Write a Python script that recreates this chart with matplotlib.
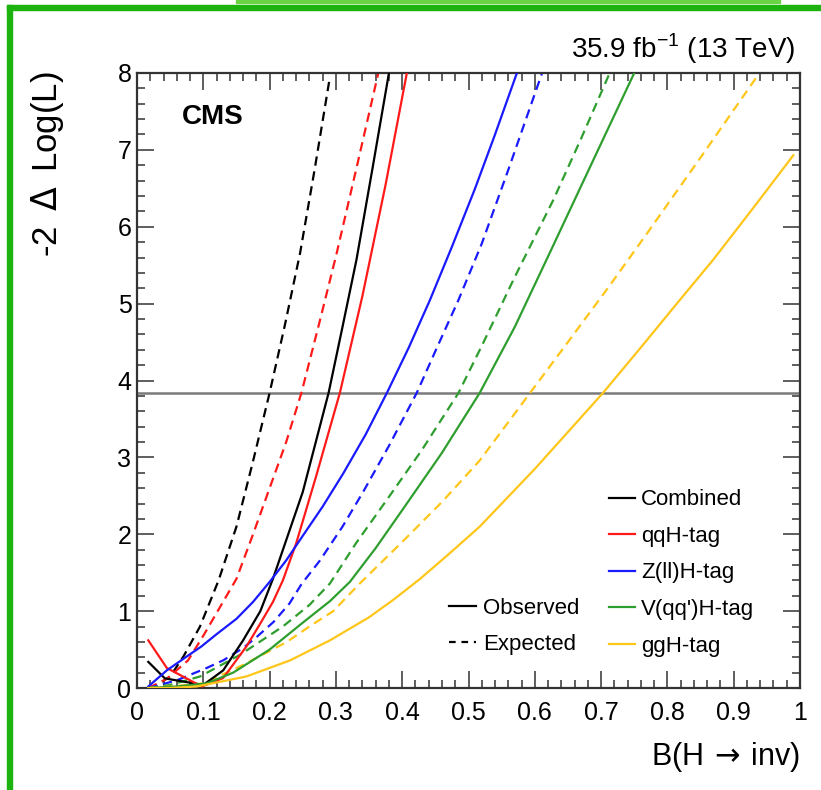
import matplotlib
matplotlib.use("Agg")
import matplotlib.pyplot as plt
from matplotlib.lines import Line2D
from matplotlib.patches import Rectangle
from matplotlib.ticker import MultipleLocator, FuncFormatter

plt.rcParams['font.family'] = ['Liberation Sans', 'DejaVu Sans']

# Likelihood scans, -2 dLogL vs B(H->inv)
comb_obs_x = [0.017, 0.042, 0.10, 0.13, 0.16, 0.186, 0.205, 0.25, 0.289, 0.31, 0.331, 0.355, 0.38]
comb_obs_y = [0.34, 0.125, 0.04, 0.23, 0.62, 1.0, 1.42, 2.55, 3.84, 4.7, 5.57, 6.75, 8.0]
comb_exp_x = [0.017, 0.03, 0.05, 0.07, 0.095, 0.123, 0.15, 0.175, 0.20, 0.223, 0.246, 0.268, 0.29]
comb_exp_y = [0.0, 0.04, 0.15, 0.41, 0.80, 1.40, 2.1, 2.95, 3.84, 4.72, 5.66, 6.75, 7.9]

qqh_obs_x = [0.017, 0.045, 0.0976, 0.13, 0.165, 0.186, 0.205, 0.22, 0.24, 0.27, 0.306, 0.34, 0.375, 0.407]
qqh_obs_y = [0.62, 0.26, 0.02, 0.13, 0.54, 0.84, 1.12, 1.40, 1.88, 2.75, 3.84, 5.1, 6.55, 8.0]
qqh_exp_x = [0.017, 0.045, 0.077, 0.10, 0.125, 0.15, 0.175, 0.20, 0.225, 0.248, 0.275, 0.301, 0.332, 0.364]
qqh_exp_y = [0.0, 0.12, 0.36, 0.68, 1.05, 1.42, 2.0, 2.6, 3.2, 3.84, 4.75, 5.65, 6.8, 8.0]

zllh_obs_x = [0.017, 0.045, 0.075, 0.097, 0.12, 0.15, 0.175, 0.20, 0.225, 0.25, 0.28, 0.311,
              0.345, 0.377, 0.41, 0.442, 0.475, 0.51, 0.54, 0.573]
zllh_obs_y = [0.02, 0.23, 0.41, 0.54, 0.70, 0.90, 1.12, 1.38, 1.66, 1.98, 2.36, 2.79,
              3.3, 3.84, 4.43, 5.05, 5.74, 6.5, 7.2, 8.0]
zllh_exp_x = [0.017, 0.06, 0.105, 0.13, 0.16, 0.18, 0.206, 0.23, 0.248, 0.276, 0.31, 0.341,
              0.38, 0.422, 0.452, 0.485, 0.52, 0.56, 0.611]
zllh_exp_y = [0.0, 0.1, 0.26, 0.36, 0.52, 0.66, 0.86, 1.1, 1.35, 1.66, 2.1, 2.55,
              3.15, 3.84, 4.42, 5.05, 5.78, 6.74, 8.0]

vqqh_obs_x = [0.017, 0.06, 0.105, 0.145, 0.2, 0.25, 0.291, 0.321, 0.36, 0.407, 0.46, 0.517,
              0.57, 0.628, 0.69, 0.75]
vqqh_obs_y = [0.0, 0.02, 0.06, 0.2, 0.5, 0.85, 1.13, 1.38, 1.82, 2.4, 3.06, 3.84,
              4.7, 5.76, 6.9, 8.0]
vqqh_exp_x = [0.017, 0.05, 0.095, 0.155, 0.22, 0.26, 0.291, 0.33, 0.377, 0.43, 0.485, 0.52,
              0.57, 0.628, 0.67, 0.713]
vqqh_exp_y = [0.0, 0.04, 0.15, 0.43, 0.80, 1.08, 1.36, 1.88, 2.45, 3.1, 3.84, 4.45,
              5.35, 6.35, 7.15, 8.0]

ggh_obs_x = [0.017, 0.05, 0.09, 0.165, 0.231, 0.291, 0.35, 0.387, 0.427, 0.47, 0.517, 0.6,
             0.65, 0.703, 0.76, 0.819, 0.869, 0.93, 0.99]
ggh_obs_y = [0.0, 0.0, 0.02, 0.15, 0.36, 0.62, 0.92, 1.15, 1.42, 1.74, 2.10, 2.85,
             3.33, 3.84, 4.43, 5.05, 5.57, 6.25, 6.93]
ggh_exp_x = [0.017, 0.05, 0.1, 0.16, 0.226, 0.26, 0.296, 0.336, 0.4, 0.46, 0.517, 0.593,
             0.65, 0.71, 0.769, 0.85, 0.934]
ggh_exp_y = [0.0, 0.02, 0.06, 0.3, 0.6, 0.8, 1.0, 1.36, 1.9, 2.42, 2.96, 3.84,
             4.5, 5.2, 5.91, 6.9, 7.94]

threshold = 3.84

labels = ['Combined', 'qqH-tag', 'Z(ll)H-tag', "V(qq')H-tag", 'ggH-tag']
colors = ['black', '#ff1a1a', '#1a1aff', '#2e9e2e', '#ffc61a']
obs = [(comb_obs_x, comb_obs_y), (qqh_obs_x, qqh_obs_y), (zllh_obs_x, zllh_obs_y),
       (vqqh_obs_x, vqqh_obs_y), (ggh_obs_x, ggh_obs_y)]
exp = [(comb_exp_x, comb_exp_y), (qqh_exp_x, qqh_exp_y), (zllh_exp_x, zllh_exp_y),
       (vqqh_exp_x, vqqh_exp_y), (ggh_exp_x, ggh_exp_y)]

fig = plt.figure(figsize=(8.21, 7.90), dpi=100)
ax = fig.add_axes([0.1669, 0.1291, 0.8075, 0.7785])

ax.axhline(threshold, color='#7a7a7a', lw=1.8, zorder=1)

lw = 1.6
for (xo, yo), (xe, ye), c in zip(obs, exp, colors):
    ax.plot(xe, ye, color=c, lw=lw, dashes=(4.2, 2.6), zorder=2)
    ax.plot(xo, yo, color=c, lw=lw, zorder=3)

ax.set_xlim(0, 1)
ax.set_ylim(0, 8)
ax.xaxis.set_major_locator(MultipleLocator(0.1))
ax.xaxis.set_minor_locator(MultipleLocator(0.02))
ax.yaxis.set_major_locator(MultipleLocator(1))
ax.yaxis.set_minor_locator(MultipleLocator(0.2))
ax.xaxis.set_major_formatter(FuncFormatter(lambda v, p: '%g' % round(v, 2)))
ax.tick_params(which='both', direction='in', top=True, right=True, width=1.1,
               color='#333333', labelsize=18)
ax.tick_params(which='major', length=12)
ax.tick_params(axis='x', which='major', pad=9)
ax.tick_params(axis='y', which='major', pad=4)
ax.tick_params(which='minor', length=6)
for s in ax.spines.values():
    s.set_linewidth(1.6)
    s.set_color('#333333')

ax.text(1.0, -0.085, r'B(H$\,\rightarrow\,$inv)', transform=ax.transAxes,
        ha='right', va='top', fontsize=22)
ax.text(-0.135, 1.003, r'-2 $\,\Delta\,$ Log(L)', transform=ax.transAxes,
        ha='center', va='top', rotation=90, fontsize=25)
ax.text(0.992, 1.012, r'35.9 fb$^{\mathregular{-1}}$ (13 TeV)', transform=ax.transAxes,
        ha='right', va='bottom', fontsize=20)
ax.text(0.068, 0.928, 'CMS', transform=ax.transAxes, ha='left', va='center',
        fontsize=20, fontweight='bold')

# legends
handles = [Line2D([], [], color=c, lw=lw) for c in colors]
leg1 = ax.legend(handles, labels, loc='upper left', bbox_to_anchor=(0.712, 0.323),
                 frameon=False, fontsize=16, handlelength=1.15, handletextpad=0.3,
                 labelspacing=0.7, borderpad=0, borderaxespad=0)
ax.add_artist(leg1)
style_handles = [Line2D([], [], color='black', lw=lw),
                 Line2D([], [], color='black', lw=lw, dashes=(3.0, 2.6))]
ax.legend(style_handles, ['Observed', 'Expected'], loc='upper left',
          bbox_to_anchor=(0.47, 0.147), frameon=False, fontsize=16, handlelength=1.25,
          handletextpad=0.3, labelspacing=0.7, borderpad=0, borderaxespad=0)

# green page frame
W, H = 821.0, 790.0
fig.patches.append(Rectangle((7 / W, 0), 5 / W, (H - 5) / H, transform=fig.transFigure,
                             color='#1db30f', zorder=0))
fig.patches.append(Rectangle((7 / W, (H - 10) / H), 1 - 7 / W, 5 / H,
                             transform=fig.transFigure, color='#1db30f', zorder=0))
fig.patches.append(Rectangle((236 / W, (H - 2.5) / H), 544 / W, 2.5 / H,
                             transform=fig.transFigure, color='#6ad444', zorder=0))

fig.savefig('out.png', dpi=100)
